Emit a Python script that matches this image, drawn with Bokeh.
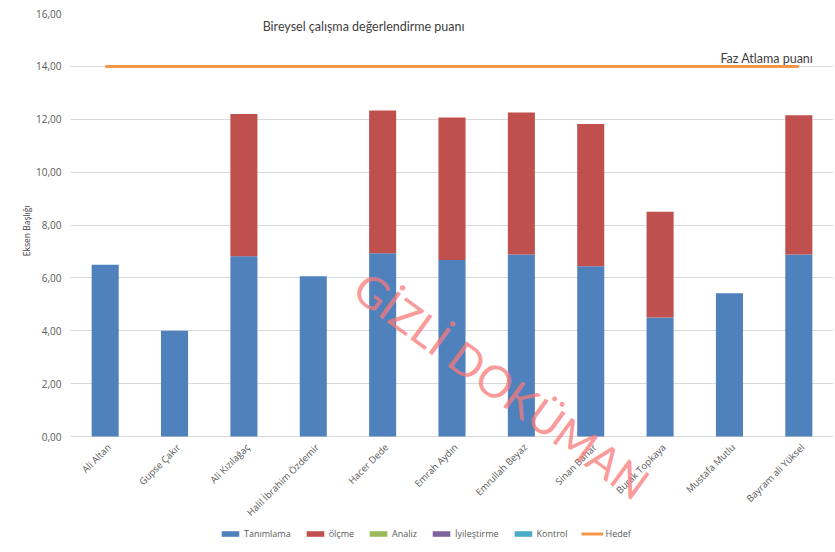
import math
from bokeh.plotting import figure
from bokeh.models import (FactorRange, Range1d, FixedTicker, CustomJSTickFormatter,
                          Legend, LegendItem, Label, Title)
from bokeh.core.properties import value
from bokeh.embed import file_html
from bokeh.resources import INLINE

categories = ["Ali Altan", "Gupse Çakır", "Ali Kızılağaç", "Halil İbrahim Özdemir",
              "Hacer Dede", "Emrah Aydın", "Emrullah Beyaz", "Sinan Bahar",
              "Burak Topkaya", "Mustafa Mutlu", "Bayram ali Yüksel"]
tanimlama = [6.50, 4.00, 6.82, 6.06, 6.93, 6.68, 6.88, 6.44, 4.50, 5.42, 6.88]
olcme = [0.0, 0.0, 5.38, 0.0, 5.40, 5.39, 5.38, 5.38, 4.00, 0.0, 5.27]
analiz = [0.0, 0.0, 0.0, 0.0, 0.0, 0.0, 0.0, 0.0, 0.0, 0.0, 0.0]
iyilestirme = [0.0, 0.0, 0.0, 0.0, 0.0, 0.0, 0.0, 0.0, 0.0, 0.0, 0.0]
kontrol = [0.0, 0.0, 0.0, 0.0, 0.0, 0.0, 0.0, 0.0, 0.0, 0.0, 0.0]
hedef = [14.0, 14.0, 14.0, 14.0, 14.0, 14.0, 14.0, 14.0, 14.0, 14.0, 14.0]
y_ticks = [0, 2, 4, 6, 8, 10, 12, 14, 16]
series_names = ["Tanımlama", "ölçme", "Analiz", "İyileştirme", "Kontrol"]
series_colors = ["#4F81BD", "#C0504D", "#9BBB59", "#8064A2", "#4BACC6"]
hedef_color = "#F79646"

TEXT_GREY = "#595959"
FONT = "Open Sans"

W, H = 835, 552
TOP, ZERO_PX = 13, 436          # pixel rows of 16,00 and 0,00
y_max = 16.0
y_min = -(H - ZERO_PX) / (ZERO_PX - TOP) * y_max   # frame extends below the 0 line

p = figure(x_range=FactorRange(*categories, range_padding=0),
           y_range=Range1d(y_min, y_max),
           width=W, height=H, output_backend="svg", toolbar_location=None,
           min_border_left=70, min_border_right=2, min_border_top=TOP,
           min_border_bottom=0)
p.outline_line_color = None
p.background_fill_color = "white"
p.border_fill_color = "white"

data = dict(cat=categories, t=tanimlama, o=olcme, a=analiz, i=iyilestirme, k=kontrol, h=hedef)
renderers = p.vbar_stack(["t", "o", "a", "i", "k"], x="cat", width=0.39, source=data,
                         color=series_colors, line_color=None)
line_r = p.line(x="cat", y="h", source=data, line_color=hedef_color, line_width=3)

# category labels (rotated), placed under the 0 line
p.text(x="cat", y=0, text="cat", source=data, angle=45, angle_units="deg",
       text_align="right", text_baseline="middle", x_offset=4, y_offset=9,
       text_font=value(FONT), text_font_size="9.5px", text_color=TEXT_GREY)

# axes
p.xaxis.visible = False
p.yaxis.ticker = FixedTicker(ticks=y_ticks)
p.yaxis.formatter = CustomJSTickFormatter(code="return tick.toFixed(2).replace('.', ',');")
p.yaxis.axis_line_color = None
p.yaxis.major_tick_line_color = None
p.yaxis.minor_tick_line_color = None
p.yaxis.major_label_text_font = FONT
p.yaxis.major_label_text_font_size = "10px"
p.yaxis.major_label_text_color = TEXT_GREY
p.yaxis.major_label_standoff = 3

ytitle = Title(text="Eksen Başlığı", align="right", offset=192,
               text_font=FONT, text_font_size="8.5px", text_font_style="normal",
               text_color="#404040", standoff=3)
p.add_layout(ytitle, "left")

p.xgrid.grid_line_color = None
p.ygrid.grid_line_color = "#D9D9D9"
p.ygrid.ticker = FixedTicker(ticks=y_ticks)

# annotations
p.add_layout(Label(x=2.77, y=15.5, text="Bireysel çalışma değerlendirme puanı",
                   text_font="Lato", text_font_size="12.5px", text_color="#404040",
                   text_baseline="middle"))
p.add_layout(Label(x=9.37, y=14.3, text="Faz Atlama puanı",
                   text_font="Lato", text_font_size="12.5px", text_color="#404040",
                   text_baseline="middle"))
p.add_layout(Label(x=6.22, y=1.95, text="GİZLİ DOKÜMAN", angle=-36, angle_units="deg",
                   text_font="Lato", text_font_size="44px", text_color="#F87A7A",
                   text_alpha=0.75, text_align="center", text_baseline="middle"))

# legend
items = [LegendItem(label=n, renderers=[r]) for n, r in zip(series_names, renderers)]
items.append(LegendItem(label="Hedef", renderers=[line_r]))
legend = Legend(items=items, orientation="horizontal", location=(149, 12),
                glyph_width=22, glyph_height=7, label_text_font=FONT,
                label_text_font_size="9px", label_text_color=TEXT_GREY,
                label_standoff=3, spacing=13, padding=0, margin=0,
                border_line_color=None, background_fill_alpha=0)
p.add_layout(legend, "center")

open("out.html", "w").write(file_html(p, INLINE))
